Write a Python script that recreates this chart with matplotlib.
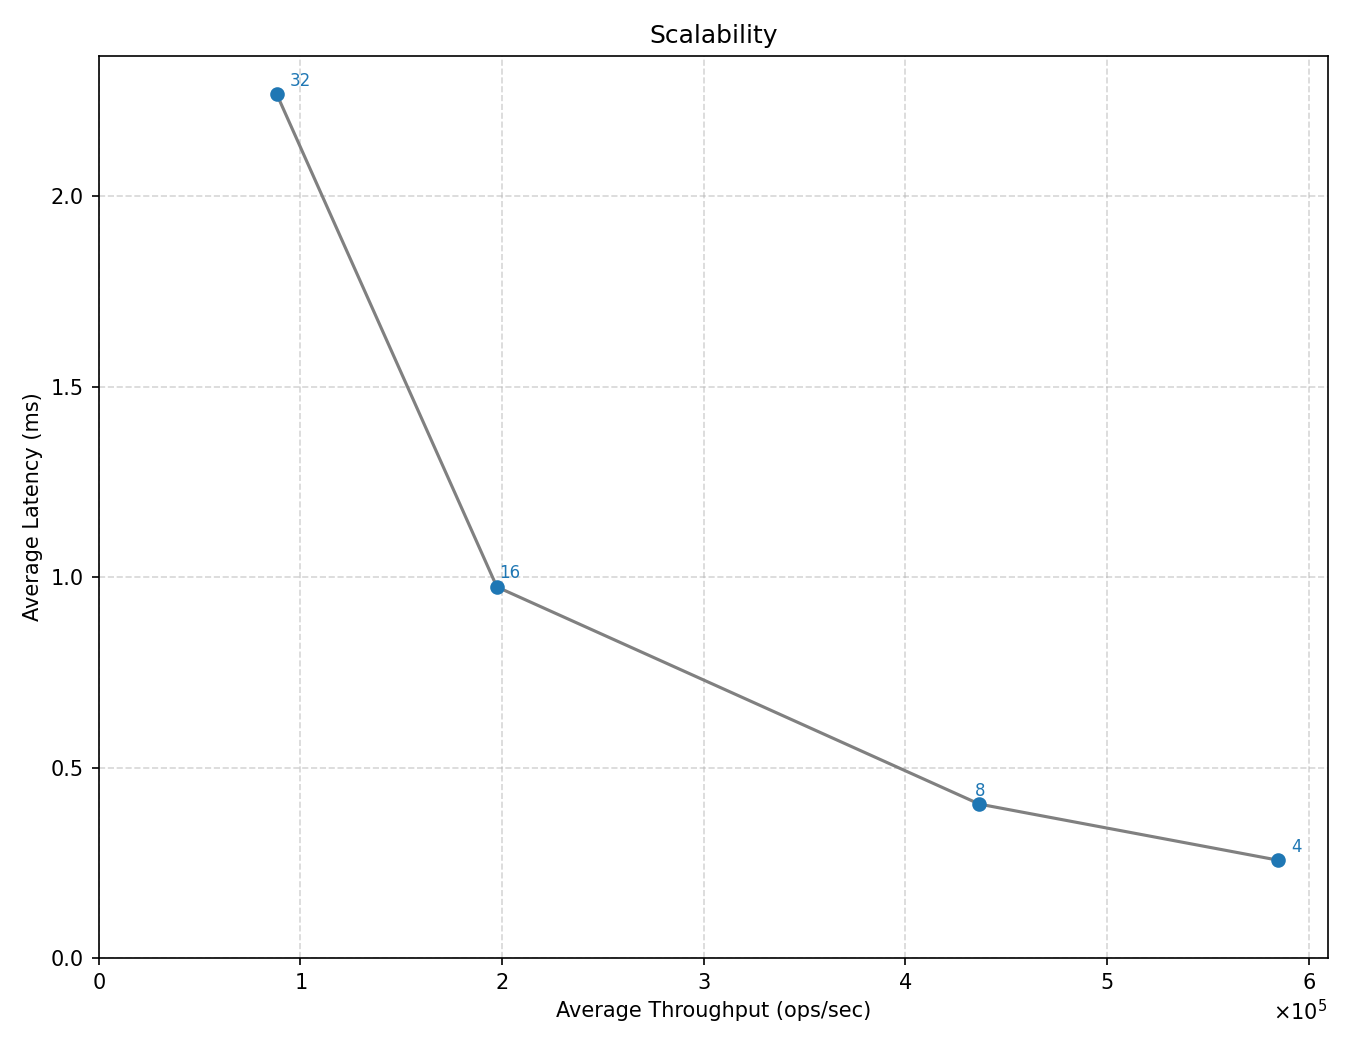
import numpy as np
import matplotlib
matplotlib.use("Agg")
import matplotlib.pyplot as plt

# threads -> (throughput, latency)
threads = [32, 16, 8, 4]
throughput = [88300, 197500, 436700, 584600]
latency = [2.268, 0.974, 0.404, 0.257]

# label offsets in points (dx, dy) and alignment
offsets = [(6.4, 3.9, 'left'), (1.0, 4.5, 'left'), (0.3, 3.8, 'center'), (6.6, 3.8, 'left')]

fig, ax = plt.subplots(figsize=(9, 7), dpi=150)

ax.plot(throughput, latency, color='gray', linewidth=1.5, zorder=2)
ax.scatter(throughput, latency, color='tab:blue', s=36, zorder=3)

for t, x, y, (dx, dy, ha) in zip(threads, throughput, latency, offsets):
    ax.annotate(str(t), (x, y), xytext=(dx, dy), textcoords='offset points',
                fontsize=8, color='tab:blue', ha=ha, va='baseline')

ax.set_xlim(left=0)
ax.set_ylim(bottom=0)
ax.ticklabel_format(axis='x', style='sci', scilimits=(0, 0), useMathText=True)

ax.set(xlabel='Average Throughput (ops/sec)', ylabel='Average Latency (ms)', title='Scalability')
ax.grid(True, linestyle='--', alpha=0.5)

fig.subplots_adjust(left=0.073, right=0.9835, top=0.947, bottom=0.0876)
fig.savefig("out.png", dpi=150)
